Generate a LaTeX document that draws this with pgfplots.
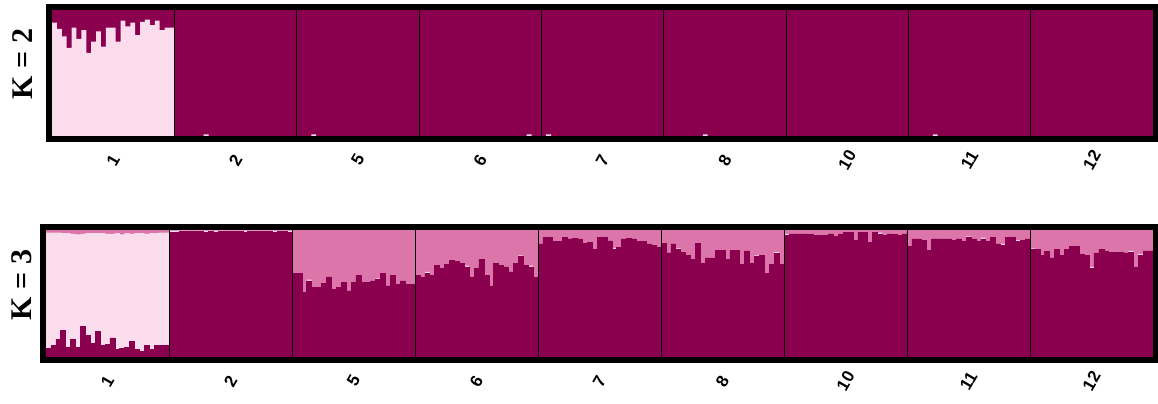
\documentclass[border=0pt]{standalone}
\usepackage{pgfplots}
\pgfplotsset{compat=1.18}
\usepackage{pgfplotstable}
\usepackage{fontspec}
\setmainfont{Liberation Serif}
\newfontfamily\ticksans{Liberation Sans}

\definecolor{pDark}{HTML}{8A004F}
\definecolor{pLight}{HTML}{FBDCEC}
\definecolor{pMid}{HTML}{DC75A9}

% K = 2 membership: columns light, dark; 25 individuals per population
\pgfplotstableread[row sep=\\]{
light dark\\
0.90 0.10\\ 0.85 0.15\\ 0.79 0.21\\ 0.70 0.30\\ 0.86 0.14\\
0.77 0.23\\ 0.84 0.16\\ 0.66 0.34\\ 0.75 0.25\\ 0.83 0.17\\
0.71 0.29\\ 0.86 0.14\\ 0.86 0.14\\ 0.75 0.25\\ 0.915 0.085\\
0.87 0.13\\ 0.90 0.10\\ 0.80 0.20\\ 0.905 0.095\\ 0.923 0.077\\
0.88 0.12\\ 0.915 0.085\\ 0.84 0.16\\ 0.86 0.14\\ 0.86 0.14\\
0 1\\ 0 1\\ 0 1\\ 0 1\\ 0 1\\
0 1\\ 0.012 0.988\\ 0 1\\ 0 1\\ 0 1\\
0 1\\ 0 1\\ 0 1\\ 0 1\\ 0 1\\
0 1\\ 0 1\\ 0 1\\ 0 1\\ 0 1\\
0 1\\ 0 1\\ 0 1\\ 0 1\\ 0 1\\
0 1\\ 0 1\\ 0 1\\ 0.012 0.988\\ 0 1\\
0 1\\ 0 1\\ 0 1\\ 0 1\\ 0 1\\
0 1\\ 0 1\\ 0 1\\ 0 1\\ 0 1\\
0 1\\ 0 1\\ 0 1\\ 0 1\\ 0 1\\
0 1\\ 0 1\\ 0 1\\ 0 1\\ 0 1\\
0 1\\ 0 1\\ 0 1\\ 0 1\\ 0 1\\
0 1\\ 0 1\\ 0 1\\ 0 1\\ 0 1\\
0 1\\ 0 1\\ 0 1\\ 0 1\\ 0 1\\
0 1\\ 0 1\\ 0 1\\ 0 1\\ 0 1\\
0 1\\ 0 1\\ 0.012 0.988\\ 0 1\\ 0 1\\
0 1\\ 0.012 0.988\\ 0 1\\ 0 1\\ 0 1\\
0 1\\ 0 1\\ 0 1\\ 0 1\\ 0 1\\
0 1\\ 0 1\\ 0 1\\ 0 1\\ 0 1\\
0 1\\ 0 1\\ 0 1\\ 0 1\\ 0 1\\
0 1\\ 0 1\\ 0 1\\ 0 1\\ 0 1\\
0 1\\ 0 1\\ 0 1\\ 0 1\\ 0 1\\
0 1\\ 0 1\\ 0 1\\ 0.012 0.988\\ 0 1\\
0 1\\ 0 1\\ 0 1\\ 0 1\\ 0 1\\
0 1\\ 0 1\\ 0 1\\ 0 1\\ 0 1\\
0 1\\ 0 1\\ 0 1\\ 0 1\\ 0 1\\
0 1\\ 0 1\\ 0 1\\ 0 1\\ 0 1\\
0 1\\ 0 1\\ 0 1\\ 0 1\\ 0 1\\
0 1\\ 0 1\\ 0 1\\ 0 1\\ 0 1\\
0 1\\ 0 1\\ 0 1\\ 0 1\\ 0 1\\
0 1\\ 0 1\\ 0 1\\ 0 1\\ 0 1\\
0 1\\ 0 1\\ 0 1\\ 0 1\\ 0 1\\
0.012 0.988\\ 0 1\\ 0 1\\ 0 1\\ 0 1\\
0 1\\ 0 1\\ 0 1\\ 0 1\\ 0 1\\
0 1\\ 0 1\\ 0 1\\ 0 1\\ 0 1\\
0 1\\ 0 1\\ 0 1\\ 0 1\\ 0 1\\
0 1\\ 0 1\\ 0 1\\ 0 1\\ 0 1\\
0 1\\ 0 1\\ 0 1\\ 0 1\\ 0 1\\
0 1\\ 0 1\\ 0 1\\ 0 1\\ 0 1\\
0 1\\ 0 1\\ 0 1\\ 0 1\\ 0 1\\
0 1\\ 0 1\\ 0 1\\ 0 1\\ 0 1\\
}\tabKtwo

% K = 3 membership: columns dark, light, mid
\pgfplotstableread[row sep=\\]{
dark light mid\\
0.07 0.91 0.02\\ 0.09 0.89 0.02\\ 0.14 0.84 0.02\\ 0.21 0.765 0.025\\ 0.076 0.899 0.025\\
0.14 0.83 0.03\\ 0.076 0.889 0.035\\ 0.24 0.73 0.03\\ 0.17 0.805 0.025\\ 0.11 0.865 0.025\\
0.20 0.775 0.025\\ 0.09 0.885 0.025\\ 0.10 0.87 0.03\\ 0.15 0.82 0.03\\ 0.06 0.915 0.025\\
0.07 0.895 0.035\\ 0.076 0.899 0.025\\ 0.12 0.85 0.03\\ 0.06 0.915 0.025\\ 0.047 0.928 0.025\\
0.09 0.88 0.03\\ 0.06 0.915 0.025\\ 0.09 0.885 0.025\\ 0.09 0.89 0.02\\ 0.09 0.89 0.02\\
0.983 0.012 0.005\\ 0.983 0.012 0.005\\ 0.99 0.005 0.005\\ 0.99 0.005 0.005\\ 0.99 0.005 0.005\\
0.99 0.005 0.005\\ 0.99 0.005 0.005\\ 0.983 0.012 0.005\\ 0.99 0.005 0.005\\ 0.983 0.012 0.005\\
0.99 0.005 0.005\\ 0.99 0.005 0.005\\ 0.99 0.005 0.005\\ 0.99 0.005 0.005\\ 0.99 0.005 0.005\\
0.983 0.012 0.005\\ 0.99 0.005 0.005\\ 0.99 0.005 0.005\\ 0.99 0.005 0.005\\ 0.99 0.005 0.005\\
0.99 0.005 0.005\\ 0.983 0.012 0.005\\ 0.99 0.005 0.005\\ 0.99 0.005 0.005\\ 0.983 0.012 0.005\\
0.66 0 0.34\\ 0.66 0 0.34\\ 0.51 0 0.49\\ 0.60 0.01 0.39\\ 0.55 0 0.45\\
0.55 0 0.45\\ 0.58 0 0.42\\ 0.63 0 0.37\\ 0.53 0 0.47\\ 0.55 0 0.45\\
0.59 0 0.41\\ 0.52 0 0.48\\ 0.59 0 0.41\\ 0.64 0 0.36\\ 0.59 0 0.41\\
0.59 0 0.41\\ 0.60 0 0.40\\ 0.61 0.01 0.38\\ 0.66 0 0.34\\ 0.56 0 0.44\\
0.64 0 0.36\\ 0.57 0 0.43\\ 0.60 0 0.40\\ 0.57 0 0.43\\ 0.57 0 0.43\\
0.64 0 0.36\\ 0.625 0 0.375\\ 0.66 0.01 0.33\\ 0.64 0 0.36\\ 0.72 0 0.28\\
0.70 0 0.30\\ 0.73 0 0.27\\ 0.76 0 0.24\\ 0.75 0 0.25\\ 0.74 0 0.26\\
0.71 0.01 0.28\\ 0.63 0 0.37\\ 0.70 0 0.30\\ 0.77 0 0.23\\ 0.64 0 0.36\\
0.56 0 0.44\\ 0.74 0 0.26\\ 0.72 0 0.28\\ 0.71 0 0.29\\ 0.67 0 0.33\\
0.74 0 0.26\\ 0.79 0.01 0.20\\ 0.72 0 0.28\\ 0.71 0.01 0.28\\ 0.625 0 0.375\\
0.89 0 0.11\\ 0.94 0 0.06\\ 0.94 0 0.06\\ 0.91 0 0.09\\ 0.91 0 0.09\\
0.94 0 0.06\\ 0.93 0 0.07\\ 0.935 0 0.065\\ 0.93 0 0.07\\ 0.895 0 0.105\\
0.90 0 0.10\\ 0.85 0 0.15\\ 0.94 0 0.06\\ 0.94 0 0.06\\ 0.915 0 0.085\\
0.85 0.01 0.14\\ 0.86 0 0.14\\ 0.93 0 0.07\\ 0.935 0 0.065\\ 0.93 0 0.07\\
0.91 0 0.09\\ 0.91 0 0.09\\ 0.89 0 0.11\\ 0.88 0 0.12\\ 0.86 0 0.14\\
0.895 0 0.105\\ 0.82 0 0.18\\ 0.89 0 0.11\\ 0.845 0.01 0.145\\ 0.825 0 0.175\\
0.80 0 0.20\\ 0.77 0 0.23\\ 0.895 0 0.105\\ 0.74 0 0.26\\ 0.78 0 0.22\\
0.78 0 0.22\\ 0.84 0 0.16\\ 0.84 0 0.16\\ 0.77 0 0.23\\ 0.84 0 0.16\\
0.84 0 0.16\\ 0.73 0 0.27\\ 0.835 0 0.165\\ 0.74 0 0.26\\ 0.79 0.01 0.20\\
0.80 0 0.20\\ 0.66 0 0.34\\ 0.73 0 0.27\\ 0.815 0.01 0.175\\ 0.73 0 0.27\\
0.96 0.01 0.03\\ 0.97 0 0.03\\ 0.97 0 0.03\\ 0.97 0 0.03\\ 0.97 0 0.03\\
0.965 0 0.035\\ 0.96 0 0.04\\ 0.955 0 0.045\\ 0.955 0 0.045\\ 0.97 0 0.03\\
0.95 0 0.05\\ 0.97 0 0.03\\ 0.98 0 0.02\\ 0.98 0 0.02\\ 0.92 0 0.08\\
0.98 0 0.02\\ 0.98 0 0.02\\ 0.90 0 0.10\\ 0.98 0 0.02\\ 0.97 0.01 0.02\\
0.96 0 0.04\\ 0.97 0 0.03\\ 0.965 0 0.035\\ 0.96 0 0.04\\ 0.97 0 0.03\\
0.87 0 0.13\\ 0.93 0 0.07\\ 0.93 0 0.07\\ 0.92 0 0.08\\ 0.84 0 0.16\\
0.93 0 0.07\\ 0.93 0 0.07\\ 0.93 0 0.07\\ 0.93 0 0.07\\ 0.92 0 0.08\\
0.93 0 0.07\\ 0.91 0 0.09\\ 0.94 0.01 0.05\\ 0.93 0 0.07\\ 0.91 0 0.09\\
0.93 0.01 0.06\\ 0.91 0 0.09\\ 0.94 0 0.06\\ 0.89 0 0.11\\ 0.88 0.01 0.11\\
0.94 0 0.06\\ 0.94 0 0.06\\ 0.91 0.01 0.08\\ 0.92 0 0.08\\ 0.93 0 0.07\\
0.845 0.01 0.145\\ 0.85 0 0.15\\ 0.80 0 0.20\\ 0.83 0 0.17\\ 0.78 0 0.22\\
0.85 0 0.15\\ 0.80 0 0.20\\ 0.85 0 0.15\\ 0.87 0 0.13\\ 0.87 0 0.13\\
0.81 0 0.19\\ 0.80 0 0.20\\ 0.70 0.01 0.29\\ 0.82 0 0.18\\ 0.85 0 0.15\\
0.835 0 0.165\\ 0.825 0 0.175\\ 0.825 0 0.175\\ 0.825 0 0.175\\ 0.82 0 0.18\\
0.825 0.01 0.165\\ 0.71 0 0.29\\ 0.80 0.01 0.19\\ 0.835 0 0.165\\ 0.835 0 0.165\\
}\tabKthree

\pgfplotsset{
  structure/.style={
    scale only axis,
    xmin=0, xmax=225, ymin=0, ymax=1,
    enlarge x limits=false,
    ytick=\empty,
    xtick={12.5,37.5,62.5,87.5,112.5,137.5,162.5,187.5,212.5},
    xticklabels={1,2,5,6,7,8,10,11,12},
    xticklabel style={font=\ticksans\bfseries\fontsize{8.5}{10}\selectfont,
                      yshift=-12pt, rotate=60, anchor=center},
    major tick length=0pt,
    extra x ticks={25,50,75,100,125,150,175,200},
    extra x tick labels={},
    extra x tick style={grid=major, major grid style={draw=black, line width=0.5pt},
                        xticklabel style={opacity=0}},
    axis line style={draw=none},
    axis background/.style={fill=pLight},
    axis on top,
    ybar stacked, bar width=1,
  },
  layer/.style={fill=#1, draw=#1, line width=0.3pt},
}

\begin{document}
\begin{tikzpicture}
\useasboundingbox (0,0) rectangle (579pt,201.5pt);

% K = 2
\begin{axis}[structure, name=ktwo, anchor=south west, at={(26pt,133.5pt)},
             width=550.5pt, height=63pt]
  \addplot[fill=pLight, draw=none] table[x expr=\coordindex+0.5, y=light] {\tabKtwo};
  \addplot[layer=pDark] table[x expr=\coordindex+0.5, y=dark] {\tabKtwo};
\end{axis}
\draw[line width=3pt] ([shift={(-1.5pt,-1.5pt)}]ktwo.south west)
  rectangle ([shift={(1.5pt,1.5pt)}]ktwo.north east);

% K = 3
\begin{axis}[structure, name=kthree, anchor=south west, at={(23pt,23pt)},
             width=553.5pt, height=63.5pt]
  \addplot[layer=pDark] table[x expr=\coordindex+0.5, y=dark] {\tabKthree};
  \addplot[fill=pLight, draw=none] table[x expr=\coordindex+0.5, y=light] {\tabKthree};
  \addplot[layer=pMid] table[x expr=\coordindex+0.5, y=mid] {\tabKthree};
\end{axis}
\draw[line width=3pt] ([shift={(-1.5pt,-1.5pt)}]kthree.south west)
  rectangle ([shift={(1.5pt,1.5pt)}]kthree.north east);

\node[rotate=90, font=\bfseries\fontsize{15}{18}\selectfont] at (11.5pt,169.5pt) {K = 2};
\node[rotate=90, font=\bfseries\fontsize{15}{18}\selectfont] at (11pt,59pt) {K = 3};
\end{tikzpicture}
\end{document}
